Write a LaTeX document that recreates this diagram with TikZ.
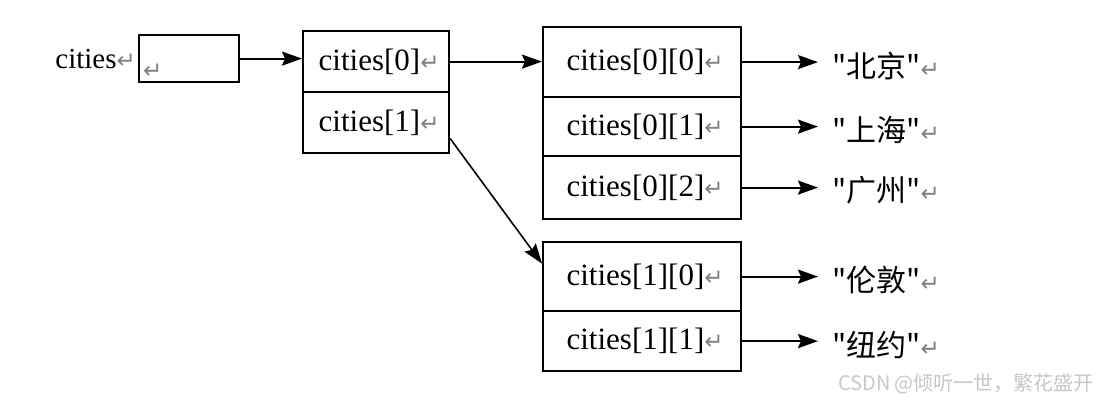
\documentclass[tikz,border=0pt]{standalone}
\usepackage{fontspec}
\setmainfont{Liberation Serif}
\newfontfamily\cjk{Noto Sans CJK SC}
\newfontfamily\symf{DejaVu Sans}
\usepackage{tikz}
\usetikzlibrary{arrows.meta}
\newcommand{\retmk}{{\color{gray}\symf\fontsize{23}{23}\selectfont ↵}}
\tikzstyle{cel_b} = [rectangle, draw=black, line width=2.2pt, anchor=north west, inner sep=0pt, font=\fontsize{31}{36}\selectfont]
\tikzstyle{str_t} = [anchor=west, inner xsep=13pt, inner ysep=2pt, font=\cjk\fontsize{30}{36}\selectfont]

\begin{document}
\begin{tikzpicture}[x=1pt,y=-1pt,->,>={Stealth[length=20pt,width=14pt,inset=3pt]},line width=2.2pt]
\useasboundingbox (0,0) rectangle (1098,400);
% pointer
\node [cel_b, minimum width=100pt, minimum height=47pt] (ptr) at (138,34) {};
\node [anchor=south west, inner sep=0pt] (ptrm) at ([shift={(4pt,4pt)}]ptr.south west) {\retmk};
\node [anchor=east, inner sep=0pt, font=\fontsize{29}{36}\selectfont] (lbl) at ([xshift=-1pt]ptr.west) {cities\retmk};
% first level
\node [cel_b, minimum width=146pt, minimum height=61pt] (c0) at (302,30) {\hspace{6pt}cities[0]\retmk};
\node [cel_b, minimum width=146pt, minimum height=61pt] (c1) at (302,91) {\hspace{6pt}cities[1]\retmk};
% second level
\node [cel_b, minimum width=198pt, minimum height=70pt] (c00) at (542,26) {\hspace{6pt}cities[0][0]\retmk};
\node [cel_b, minimum width=198pt, minimum height=59pt] (c01) at (542,96) {\hspace{6pt}cities[0][1]\retmk};
\node [cel_b, minimum width=198pt, minimum height=63pt] (c02) at (542,155) {\hspace{6pt}cities[0][2]\retmk};
\node [cel_b, minimum width=198pt, minimum height=69pt] (c10) at (542,241) {\hspace{6pt}cities[1][0]\retmk};
\node [cel_b, minimum width=198pt, minimum height=60pt] (c11) at (542,310) {\hspace{6pt}cities[1][1]\retmk};
% strings
\node [str_t] (s00) at (818,66) {"北京"\retmk};
\node [str_t] (s01) at (818,130) {"上海"\retmk};
\node [str_t] (s02) at (818,190) {"广州"\retmk};
\node [str_t] (s10) at (818,280) {"伦敦"\retmk};
\node [str_t] (s11) at (818,345) {"纽约"\retmk};

\draw (ptr.east) -- (c0.west |- ptr.east);
\draw (c0.east) -- (c00.west |- c0.east);
\draw [line width=1.6pt] ([yshift=-16pt]c1.east) -- ([yshift=13pt]c10.west);
\draw (c00.east) -- (c00.east -| s00.west);
\draw (c01.east) -- (c01.east -| s01.west);
\draw (c02.east) -- (c02.east -| s02.west);
\draw (c10.east) -- (c10.east -| s10.west);
\draw (c11.east) -- (c11.east -| s11.west);

\node [anchor=south east, inner sep=0pt, text=black!22, font=\cjk\fontsize{20}{22}\selectfont] (wm) at (1095,395) {CSDN @倾听一世，繁花盛开};
\end{tikzpicture}
\end{document}
